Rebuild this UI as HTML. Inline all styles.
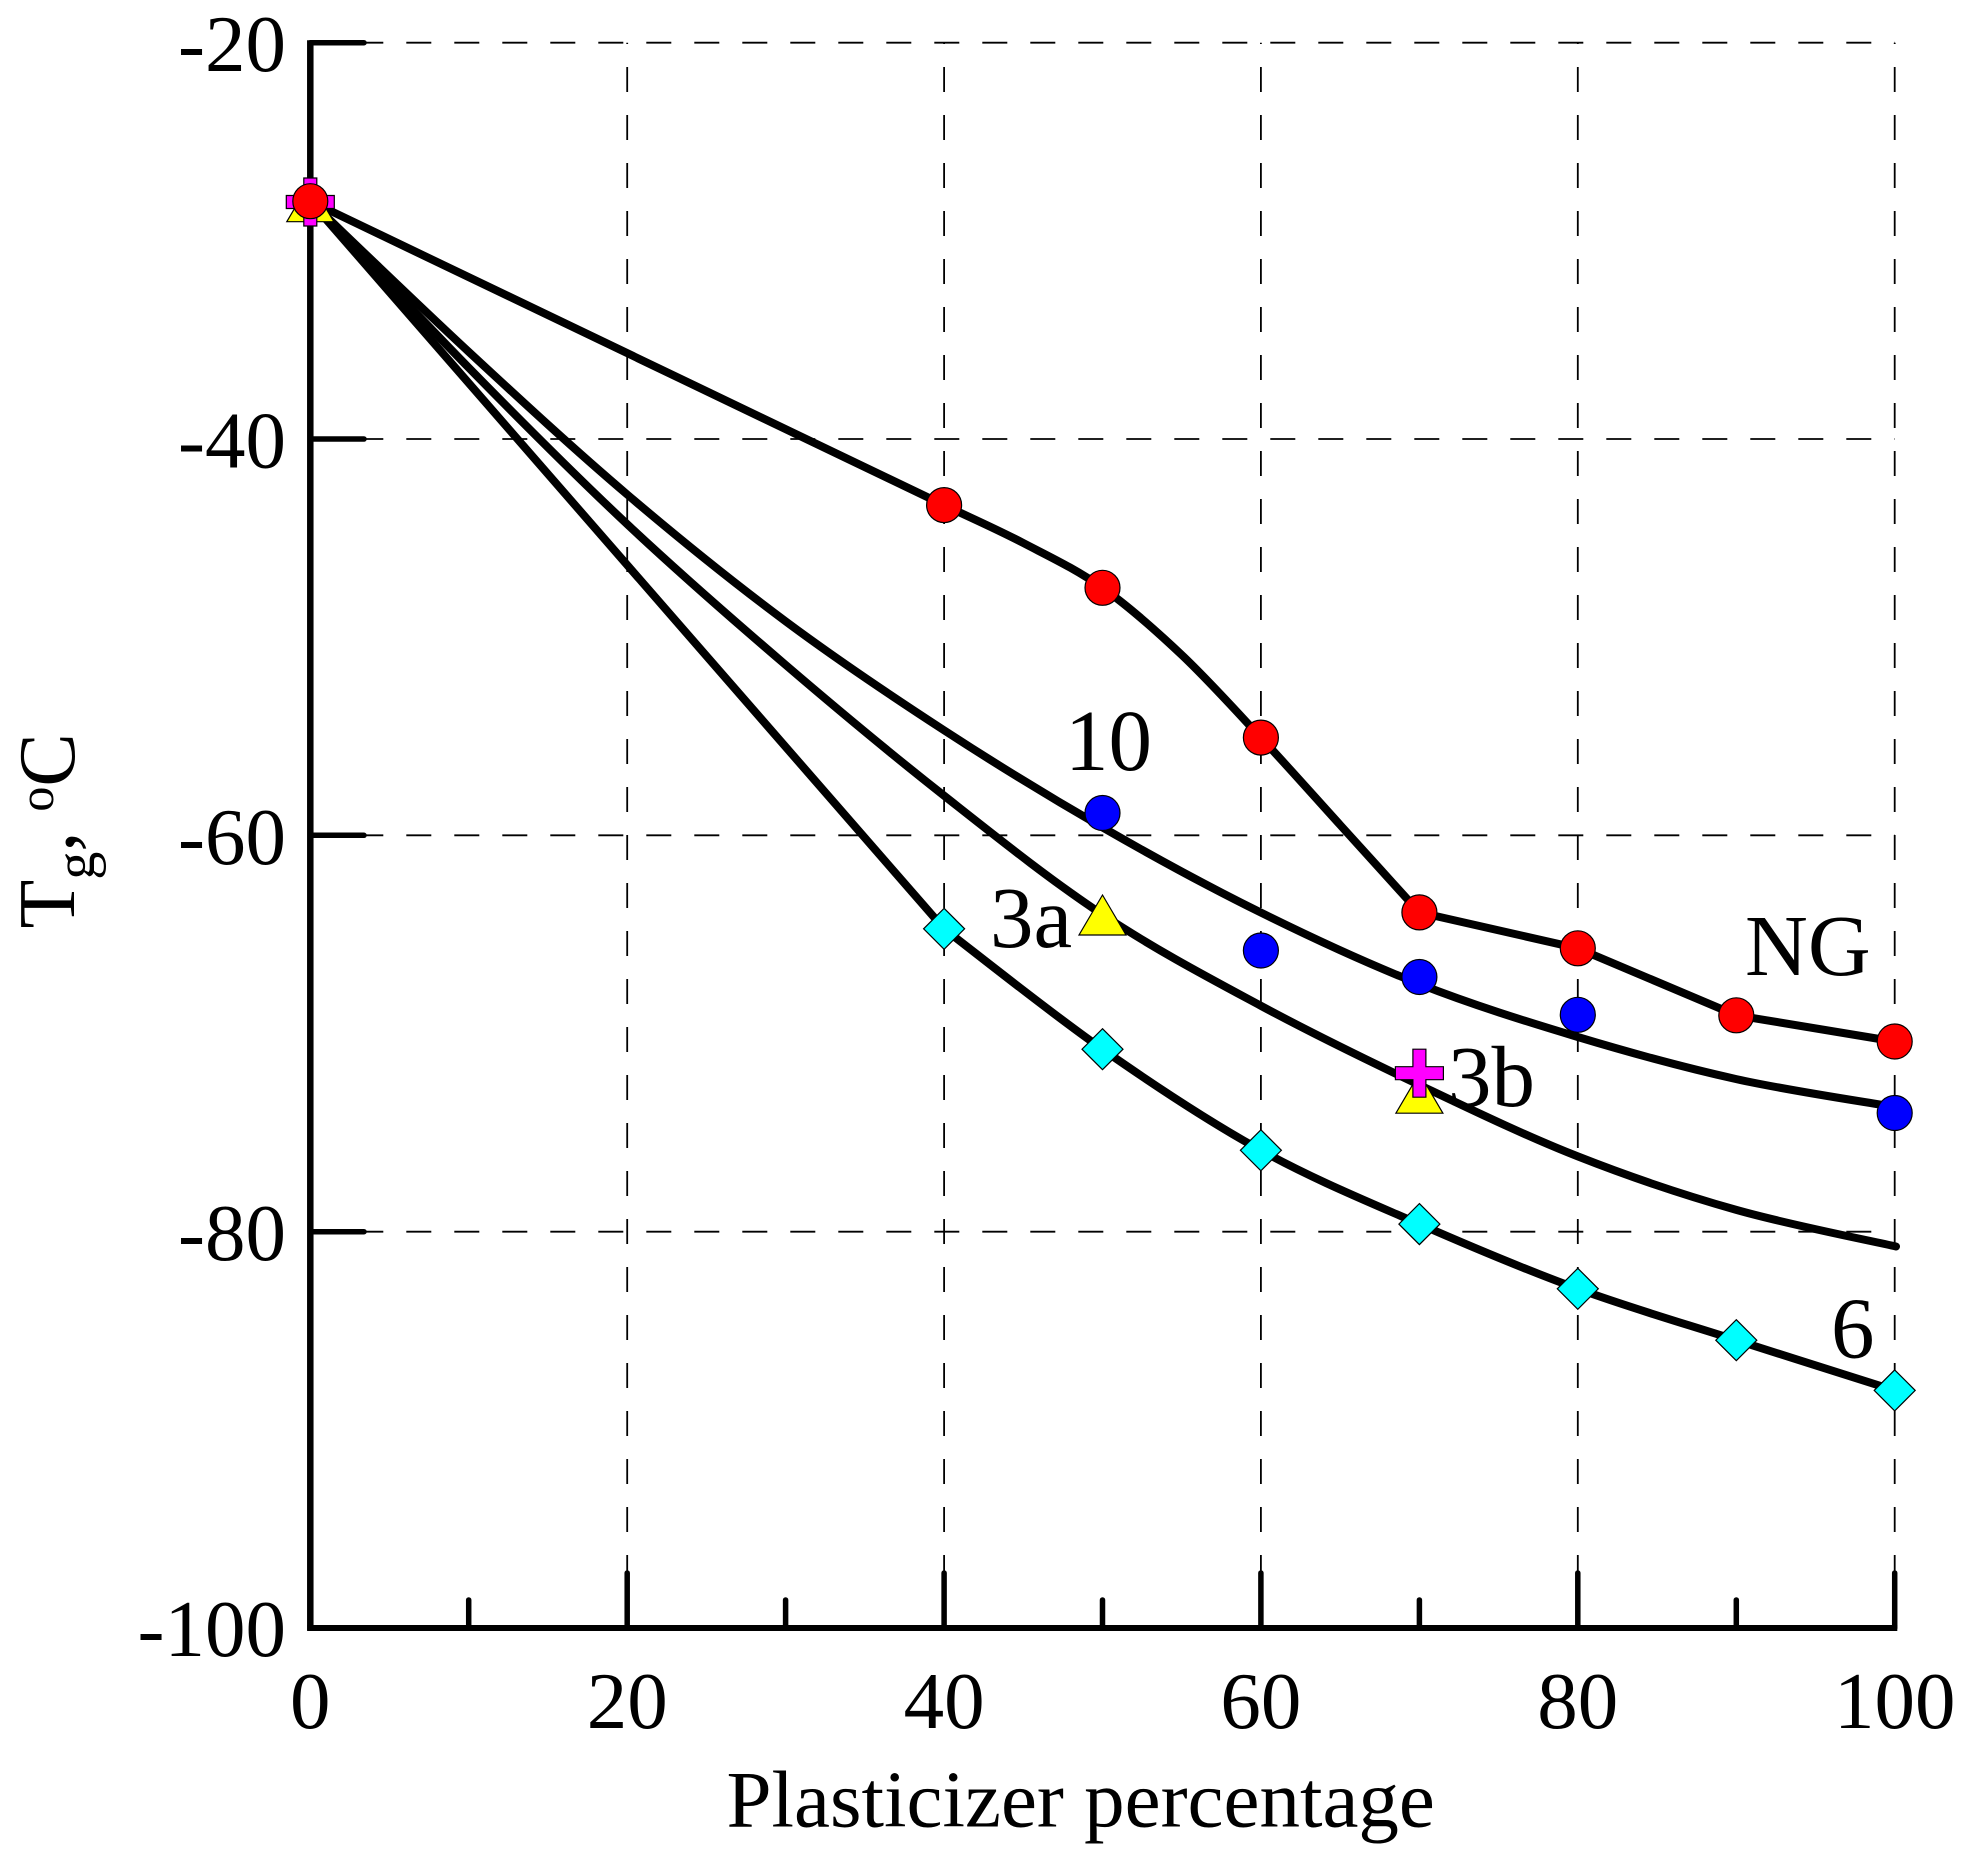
<!DOCTYPE html>
<html>
<head>
<meta charset="utf-8">
<style>
html,body{margin:0;padding:0;background:#fff;}
svg{display:block;}
text{font-family:"Liberation Serif","Times New Roman",serif;fill:#000;}
</style>
</head>
<body>
<svg width="1975" height="1862" viewBox="0 0 1975 1862" xmlns="http://www.w3.org/2000/svg">
<rect width="1975" height="1862" fill="#fff"/>

<!-- gridlines -->
<g stroke="#000" stroke-width="1.8" stroke-dasharray="25 23" fill="none">
  <path d="M310.3,42.7 H1894.7"/>
  <path d="M310.3,439.0 H1894.7"/>
  <path d="M310.3,835.3 H1894.7"/>
  <path d="M310.3,1231.7 H1894.7"/>
  <path d="M627.2,1628 V42.7"/>
  <path d="M944.1,1628 V42.7"/>
  <path d="M1260.9,1628 V42.7"/>
  <path d="M1577.8,1628 V42.7"/>
  <path d="M1894.7,1628 V42.7"/>
</g>

<!-- axes -->
<g stroke="#000" fill="none">
  <path d="M310.3,40.2 V1630.8" stroke-width="6.5"/>
  <path d="M307.3,1628 H1897.3" stroke-width="6"/>
</g>
<g stroke="#000" stroke-width="5.5" stroke-linecap="round" fill="none">
  <path d="M310.3,42.7 H364"/>
  <path d="M310.3,439.0 H364"/>
  <path d="M310.3,835.3 H364"/>
  <path d="M310.3,1231.7 H364"/>
  <path d="M627.2,1628 V1573"/>
  <path d="M944.1,1628 V1573"/>
  <path d="M1260.9,1628 V1573"/>
  <path d="M1577.8,1628 V1573"/>
  <path d="M1894.7,1628 V1573"/>
  <path d="M468.7,1628 V1600"/>
  <path d="M785.6,1628 V1600"/>
  <path d="M1102.5,1628 V1600"/>
  <path d="M1419.4,1628 V1600"/>
  <path d="M1736.3,1628 V1600"/>
</g>

<!-- tick labels -->
<g font-size="81" text-anchor="end">
  <text x="286" y="71.2">-20</text>
  <text x="286" y="467.6">-40</text>
  <text x="286" y="863.9">-60</text>
  <text x="286" y="1260.2">-80</text>
  <text x="286" y="1656">-100</text>
</g>
<g font-size="81" text-anchor="middle">
  <text x="310.3" y="1728">0</text>
  <text x="627.2" y="1728">20</text>
  <text x="944.1" y="1728">40</text>
  <text x="1260.9" y="1728">60</text>
  <text x="1577.8" y="1728">80</text>
  <text x="1894.7" y="1728">100</text>
</g>

<!-- axis titles -->
<text x="726.5" y="1826.7" font-size="81">Plasticizer percentage</text>
<text transform="translate(74,928.5) rotate(-90)" font-size="80">T<tspan font-size="56" dy="20">g</tspan><tspan font-size="80" dy="-20">, </tspan><tspan font-size="50" dy="-21">o</tspan><tspan font-size="80" dy="21">C</tspan></text>

<!-- curves -->
<g stroke="#000" stroke-width="8" fill="none" stroke-linejoin="round" stroke-linecap="round">
  <!-- NG -->
  <path d="M310.3,201.2 L944.1,505.1 C970.5,517.7 996.9,529.2 1023.3,543 C1049.7,556.8 1076.1,569.15 1102.5,587.8 C1128.9,606.45 1155.3,629.93 1181.7,654.9 C1208.1,679.87 1234.5,709.25 1260.9,737.6 C1287.3,765.95 1313.8,795.87 1340.2,825 C1366.6,854.1 1393,883.3 1419.4,912.4 L1577.8,948.3 L1736.3,1015.3 L1894.7,1041.5"/>
  <!-- 10 -->
  <path d="M310.3,201.2 C336.7,226.3 415.9,302.9 468.7,351.8 C521.5,400.7 574.4,449.6 627.2,494.5 C680,539.4 732.8,582.0 785.6,621.3 C838.4,660.6 891.3,695.95 944.1,730.3 C996.9,764.65 1049.7,797.0 1102.5,827.4 C1155.3,857.8 1208.1,886.5 1260.9,912.6 C1313.7,938.7 1366.6,963.3 1419.4,984.0 C1472.2,1004.7 1525,1021.15 1577.8,1037 C1630.6,1052.85 1683.5,1067.4 1736.3,1079.1 C1789.1,1090.8 1868.3,1102.35 1894.7,1107"/>
  <!-- 3 -->
  <path d="M310.3,201.2 C336.7,228.95 415.9,313.9 468.7,367.7 C521.5,421.5 574.4,474.7 627.2,524.2 C680,573.7 732.8,619.65 785.6,664.9 C838.4,710.15 891.3,754.1 944.1,795.7 C996.9,837.3 1049.7,879.6 1102.5,914.6 C1155.3,949.6 1208.1,977.4 1260.9,1005.8 C1313.7,1034.2 1366.6,1059.9 1419.4,1085.0 C1472.2,1110.1 1525,1135.6 1577.8,1156.4 C1630.6,1177.2 1683.3,1194.9 1736.3,1209.9 C1789.3,1224.9 1869.4,1240.4 1896,1246.5"/>
  <!-- 6 -->
  <path d="M310.3,201.2 L944.1,928.8 C970.5,948.9 1049.7,1012.3 1102.5,1049.2 C1155.3,1086.1 1208.1,1121.15 1260.9,1150.3 C1313.7,1179.45 1366.6,1201.0 1419.4,1224.1 C1472.2,1247.2 1525,1269.45 1577.8,1288.8 C1630.6,1308.15 1683.5,1323.3 1736.3,1340.2 C1789.1,1357.1 1868.3,1382 1894.7,1390.4"/>
</g>

<!-- markers -->
<g stroke="#000" stroke-width="1.2">
  <!-- cyan diamonds -->
  <g fill="#00ffff">
    <path transform="translate(944.1,928.8)" d="M0,-20.5 L20.5,0 L0,20.5 L-20.5,0 Z"/>
    <path transform="translate(1102.5,1049.2)" d="M0,-20.5 L20.5,0 L0,20.5 L-20.5,0 Z"/>
    <path transform="translate(1260.9,1150.3)" d="M0,-20.5 L20.5,0 L0,20.5 L-20.5,0 Z"/>
    <path transform="translate(1419.4,1224.1)" d="M0,-20.5 L20.5,0 L0,20.5 L-20.5,0 Z"/>
    <path transform="translate(1577.8,1288.8)" d="M0,-20.5 L20.5,0 L0,20.5 L-20.5,0 Z"/>
    <path transform="translate(1736.3,1340.2)" d="M0,-20.5 L20.5,0 L0,20.5 L-20.5,0 Z"/>
    <path transform="translate(1894.7,1390.4)" d="M0,-20.5 L20.5,0 L0,20.5 L-20.5,0 Z"/>
  </g>
  <!-- blue circles -->
  <g fill="#0000ff">
    <circle cx="1102.5" cy="813" r="17.5"/>
    <circle cx="1260.9" cy="950.5" r="17.5"/>
    <circle cx="1419.4" cy="977" r="17.5"/>
    <circle cx="1577.8" cy="1014.8" r="17.5"/>
    <circle cx="1894.7" cy="1113" r="17.5"/>
  </g>
  <!-- yellow triangles -->
  <g fill="#ffff00">
    <path transform="translate(310.3,201.7)" d="M0,-20 L23.5,20 L-23.5,20 Z"/>
    <path transform="translate(1102.5,915)" d="M0,-20 L23.5,20 L-23.5,20 Z"/>
    <path transform="translate(1419.4,1093.2)" d="M0,-20 L23.5,20 L-23.5,20 Z"/>
  </g>
  <!-- magenta plus -->
  <g fill="#ff00ff">
    <path transform="translate(310.3,202)" d="M-6.5,-24 H6.5 V-6.5 H24 V6.5 H6.5 V24 H-6.5 V6.5 H-24 V-6.5 H-6.5 Z"/>
    <path transform="translate(1419.4,1073.2)" d="M-6.5,-24 H6.5 V-6.5 H24 V6.5 H6.5 V24 H-6.5 V6.5 H-24 V-6.5 H-6.5 Z"/>
  </g>
  <!-- red circles -->
  <g fill="#ff0000">
    <circle cx="310.3" cy="201.2" r="17.5"/>
    <circle cx="944.1" cy="505.1" r="17.5"/>
    <circle cx="1102.5" cy="587.8" r="17.5"/>
    <circle cx="1260.9" cy="737.6" r="17.5"/>
    <circle cx="1419.4" cy="912.4" r="17.5"/>
    <circle cx="1577.8" cy="948.3" r="17.5"/>
    <circle cx="1736.3" cy="1015.3" r="17.5"/>
    <circle cx="1894.7" cy="1041.5" r="17.5"/>
  </g>
</g>

<!-- annotations -->
<g font-size="87">
  <text x="1065" y="770">10</text>
  <text x="990" y="947">3a</text>
  <text x="1448" y="1106">3b</text>
  <text x="1745" y="975">NG</text>
  <text x="1831" y="1357.6">6</text>
</g>
</svg>
</body>
</html>
